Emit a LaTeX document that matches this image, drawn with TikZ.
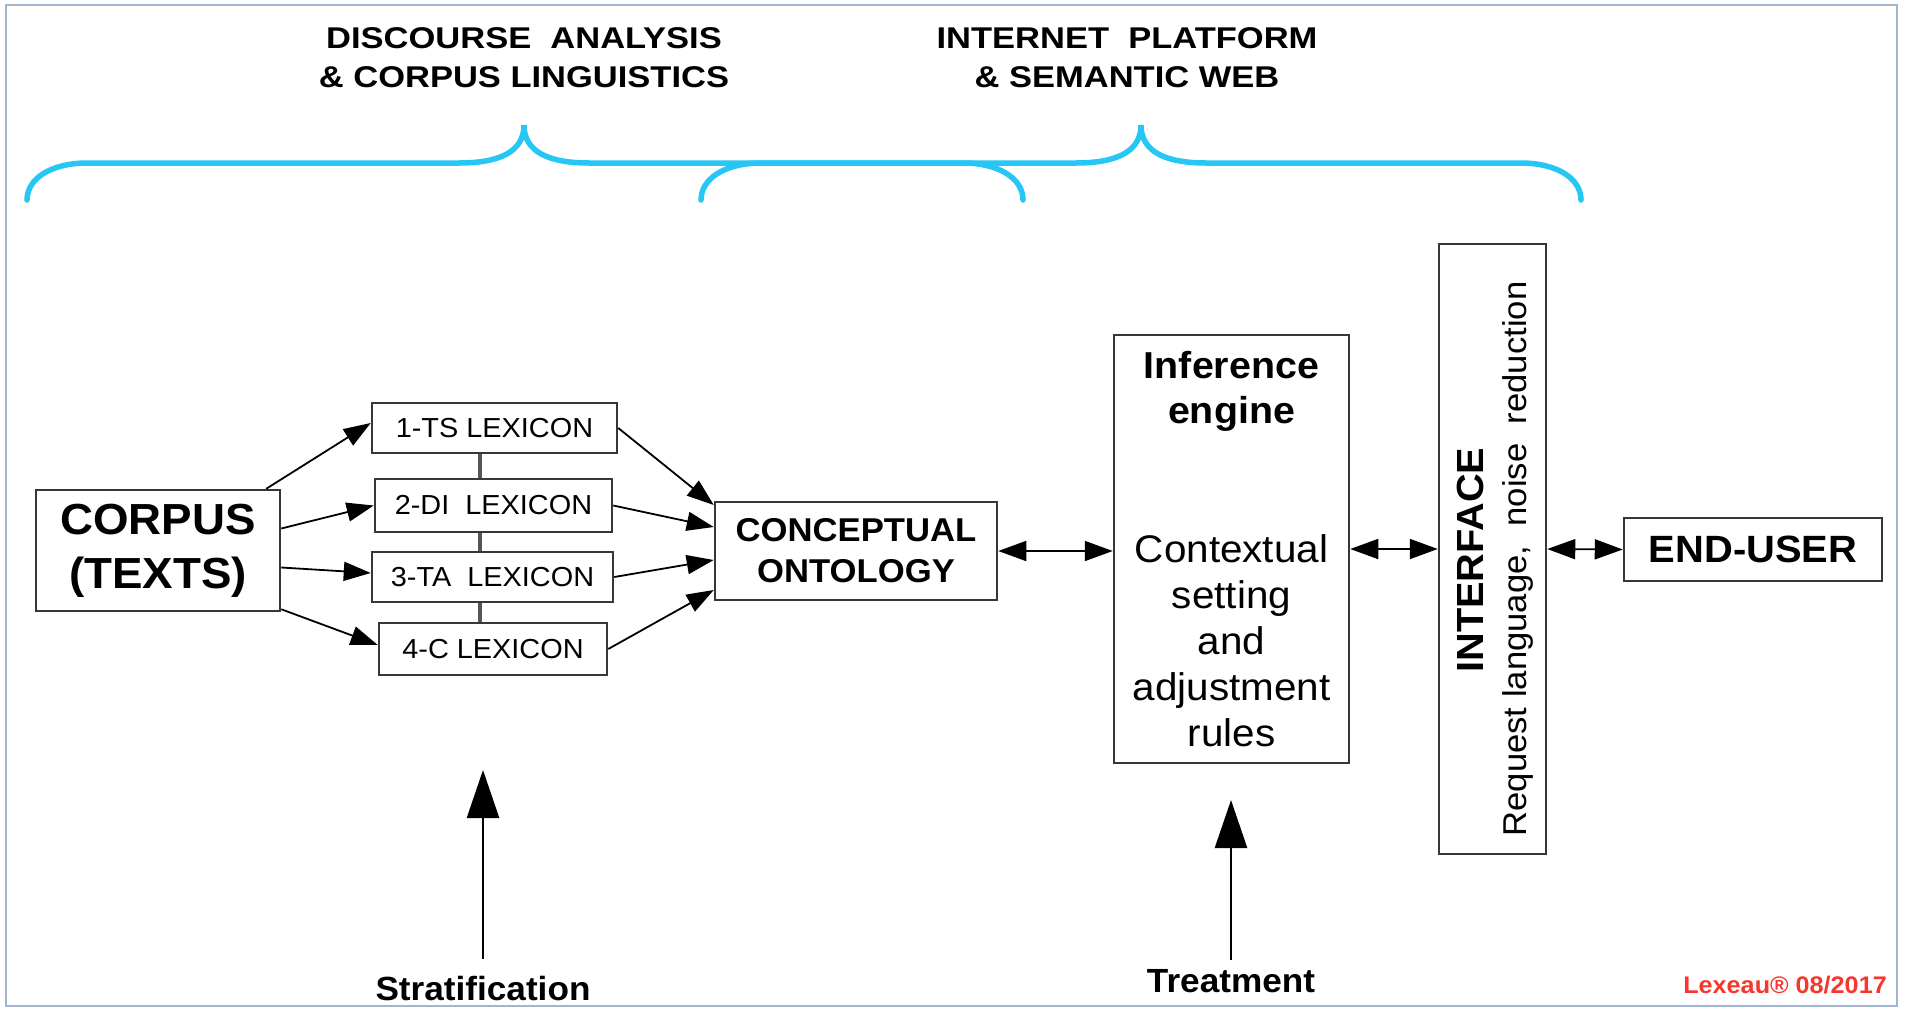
\documentclass[tikz,border=0pt]{standalone}
\usepackage{fontspec}
\setmainfont{Liberation Sans}[FakeStretch=1.05]
\newfontfamily\hfont{Liberation Sans}[FakeStretch=1.15]
\usetikzlibrary{arrows.meta,calc}
\definecolor{boxc}{RGB}{55,55,55}
\definecolor{bracec}{RGB}{38,198,245}
\definecolor{framec}{RGB}{160,182,206}
\definecolor{redc}{RGB}{245,55,45}
\definecolor{spinec}{RGB}{85,85,85}
\newcommand{\fsz}[2]{\fontsize{#1}{#2}\selectfont}
\begin{document}
\begin{tikzpicture}[x=1pt,y=-1pt,
  box/.style={draw=boxc, line width=2.5pt, fill=white, inner sep=0pt, align=center},
  lexbox/.style={box, font=\fsz{27.5}{30}},
  arr/.style={-{Triangle[length=27pt,width=19pt]}, line width=1.8pt},
  darr/.style={{Triangle[length=28pt,width=20pt]}-{Triangle[length=28pt,width=20pt]}, line width=1.8pt},
  bigarr/.style={-{Triangle[length=48pt,width=32pt]}, line width=2.5pt},
  brace/.style={draw=bracec, line width=5.5pt, line cap=round},
  spine/.style={draw=spinec, line width=3.8pt},
  head/.style={font=\hfont\bfseries\fsz{30}{39}, align=center, inner sep=0pt},
  bottomlabel/.style={font=\bfseries\fsz{33.5}{36}, inner sep=0pt, anchor=base}
]
\useasboundingbox (0,0) rectangle (1905,1009);
\draw[framec, line width=2pt] (6,5) rectangle (1897,1006);

% headings
\node[head] (h1) at (524,58) {DISCOURSE\ \ ANALYSIS\\\& CORPUS LINGUISTICS};
\node[head] (h2) at (1127,58) {INTERNET\ \ PLATFORM\\\& SEMANTIC WEB};

% braces
\draw[brace] (27,200) .. controls (27,178) and (52,163) .. (87,163) -- (459,163)
  .. controls (499,163) and (524,152) .. (524,125)
  .. controls (524,152) and (549,163) .. (589,163) -- (963,163)
  .. controls (998,163) and (1023,178) .. (1023,200);
\draw[brace] (701,200) .. controls (701,178) and (726,163) .. (761,163) -- (1076,163)
  .. controls (1116,163) and (1141,152) .. (1141,125)
  .. controls (1141,152) and (1166,163) .. (1206,163) -- (1521,163)
  .. controls (1556,163) and (1581,178) .. (1581,200);

% nodes
\node[box, minimum width=244pt, minimum height=121pt, font=\bfseries\fsz{43.5}{54}] (corpus) at (158,550.5) {CORPUS\\(TEXTS)};
\node[lexbox, minimum width=245pt, minimum height=50pt] (lex1) at (494.5,428) {1-TS LEXICON};
\node[lexbox, minimum width=237pt, minimum height=53pt] (lex2) at (493.5,505.5) {2-DI\ \ LEXICON};
\node[lexbox, minimum width=241pt, minimum height=50pt] (lex3) at (492.5,577) {3-TA\ \ LEXICON};
\node[lexbox, minimum width=228pt, minimum height=52pt] (lex4) at (493,649) {4-C LEXICON};
\node[box, minimum width=282pt, minimum height=98pt, font=\bfseries\fsz{33}{41}] (concept) at (856,551) {CONCEPTUAL\\ONTOLOGY};
\node[box, minimum width=235pt, minimum height=428pt] (infer) at (1231.5,549) {};
\node[font=\bfseries\fsz{37.5}{45}, align=center, inner sep=0pt] (infhead) at (1231.5,391) {Inference\\engine};
\node[font=\fsz{38.5}{46}, align=center, inner sep=0pt] (infbody) at (1231.5,641) {Contextual\\setting\\and\\adjustment\\rules};
\node[box, minimum width=107pt, minimum height=610pt] (iface) at (1492.5,549) {};
\node[rotate=90, font=\bfseries\fsz{37.8}{40}, inner sep=0pt] (ifhead) at (1470,560) {INTERFACE};
\node[rotate=90, font=\fsz{33}{36}, inner sep=0pt] (ifbody) at (1518,559) {Request language,\ \ noise\ \ reduction};
\node[box, minimum width=258pt, minimum height=63pt, font=\bfseries\fsz{38}{40}] (user) at (1753,549.5) {END-USER};

% spine between lexicons
\coordinate (sp) at (480,0);
\draw[spine] (lex1.south -| sp) -- (lex2.north -| sp);
\draw[spine] (lex2.south -| sp) -- (lex3.north -| sp);
\draw[spine] (lex3.south -| sp) -- (lex4.north -| sp);

% corpus -> lexicons
\draw[arr] ([xshift=-15pt]corpus.north east) -- ([yshift=5pt]lex1.west);
\draw[arr] ([yshift=22pt]corpus.east) -- (lex2.west);
\draw[arr] ([yshift=-17pt]corpus.east) -- ([yshift=4pt]lex3.west);
\draw[arr] ([yshift=3pt]corpus.south east) -- ([yshift=4pt]lex4.west);

% lexicons -> concept
\draw[arr] (lex1.east) -- ([yshift=46pt]concept.west);
\draw[arr] (lex2.east) -- ([yshift=24pt]concept.west);
\draw[arr] (lex3.east) -- ([yshift=-9pt]concept.west);
\draw[arr] (lex4.east) -- ([yshift=-39pt]concept.west);

% double arrows
\draw[darr] (concept.east) -- (concept.east -| infer.west);
\draw[darr] (infer.east) -- (iface.west);
\draw[darr] (iface.east) -- (user.west);

% bottom labels and arrows
\node[bottomlabel] (strat) at (483,1000) {Stratification};
\coordinate (stip) at (483,770);
\draw[bigarr] ([yshift=17pt]strat.north) -- (stip);
\node[bottomlabel] (treat) at (1231,992) {Treatment};
\coordinate (ttip) at (1231,800);
\draw[bigarr] ([yshift=9pt]treat.north) -- (ttip);

\node[anchor=base east, text=redc, font=\bfseries\fsz{24}{26}, inner sep=0pt] (sig) at (1887,993) {Lexeau® 08/2017};
\end{tikzpicture}
\end{document}
